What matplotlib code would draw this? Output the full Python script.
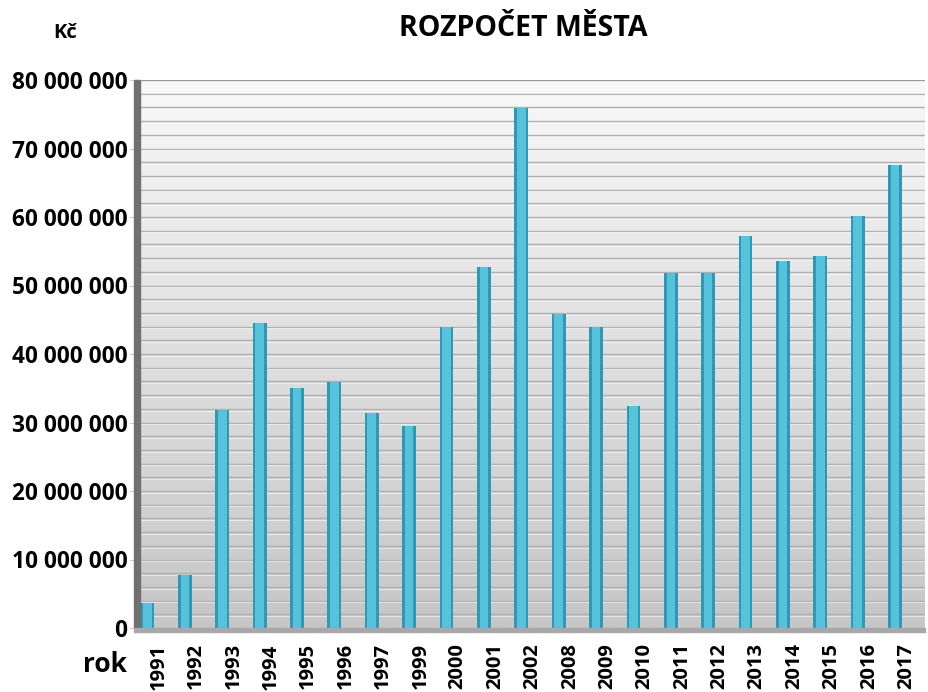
import numpy as np
import matplotlib.pyplot as plt
from matplotlib.ticker import FixedLocator, FuncFormatter
from matplotlib.patches import Rectangle

years = ['1991', '1992', '1993', '1994', '1995', '1996', '1997', '1999', '2000', '2001',
         '2002', '2008', '2009', '2010', '2011', '2012', '2013', '2014', '2015', '2016', '2017']
budget = [3.7e6, 7.7e6, 31.8e6, 44.5e6, 35.0e6, 35.9e6, 31.4e6, 29.5e6, 43.9e6, 52.7e6,
          75.9e6, 45.8e6, 43.9e6, 32.4e6, 51.8e6, 51.8e6, 57.2e6, 53.6e6, 54.3e6, 60.1e6, 67.6e6]

plt.rcParams['font.family'] = ['Open Sans', 'DejaVu Sans']

fig = plt.figure(figsize=(9.29, 6.92), dpi=100)
ax = fig.add_axes([140/929, 1-628/692, 785/929, 548/692])

x = np.arange(len(years))
ax.set_xlim(-0.5, len(years)-0.5)
ax.set_ylim(0, 80e6)

# background gradient, white at top -> light gray at bottom
grad = np.linspace(0, 1, 256).reshape(-1, 1)
ax.imshow(grad, extent=[0, 1, 0, 1], transform=ax.transAxes, aspect='auto',
          cmap=plt.matplotlib.colors.LinearSegmentedColormap.from_list('bg', ['#f8f8f8', '#c6c6c6']),
          zorder=0)

# gridlines every 2 000 000
for yv in np.arange(2e6, 80.1e6, 2e6):
    ax.axhline(yv, color='#b0b0b0', lw=1.0, zorder=1)
    ax.axhline(yv - 0.25e6, color='#fafafa', lw=0.8, alpha=0.6, zorder=1)

# bars, shifted left like the 3D look
bx = x - 0.3
ax.bar(bx, budget, width=0.37, color='#2f98b4', zorder=3)
ax.bar(bx, budget, width=0.23, color='#56c3dc', zorder=4)

# left wall and floor
ax.add_patch(Rectangle((-0.008, 0), 0.008, 1, transform=ax.transAxes, color='#707070',
                       clip_on=False, zorder=5))
ax.add_patch(Rectangle((-0.008, -0.007), 1.008, 0.007, transform=ax.transAxes, color='#a8a8a8',
                       clip_on=False, zorder=5))
ax.axhline(80e6, color='#959595', lw=1.2, zorder=5)

for s in ax.spines.values():
    s.set_visible(False)

ax.yaxis.set_major_locator(FixedLocator(np.arange(0, 80.1e6, 10e6)))
ax.yaxis.set_major_formatter(FuncFormatter(lambda v, p: '{:,.0f}'.format(v).replace(',', ' ')))
ax.tick_params(axis='y', length=8, width=0.8, color='#d0d0d0', pad=1, labelsize=16.3)
for lab in ax.get_yticklabels():
    lab.set_fontweight('bold')

ax.set_xticks(x)
ax.set_xticklabels(years, rotation=90, fontsize=14.5, fontweight='bold')
ax.tick_params(axis='x', length=0, pad=11)

fig.text(523/929, 1-28/692, 'ROZPOČET MĚSTA', ha='center', va='center', fontsize=20.5, fontweight='bold')
fig.text(65/929, 1-33/692, 'Kč', ha='center', va='center', fontsize=14.5, fontweight='bold')
fig.text(105/929, 1-665/692, 'rok', ha='center', va='center', fontsize=19, fontweight='bold')

fig.savefig('out.png', dpi=100)
